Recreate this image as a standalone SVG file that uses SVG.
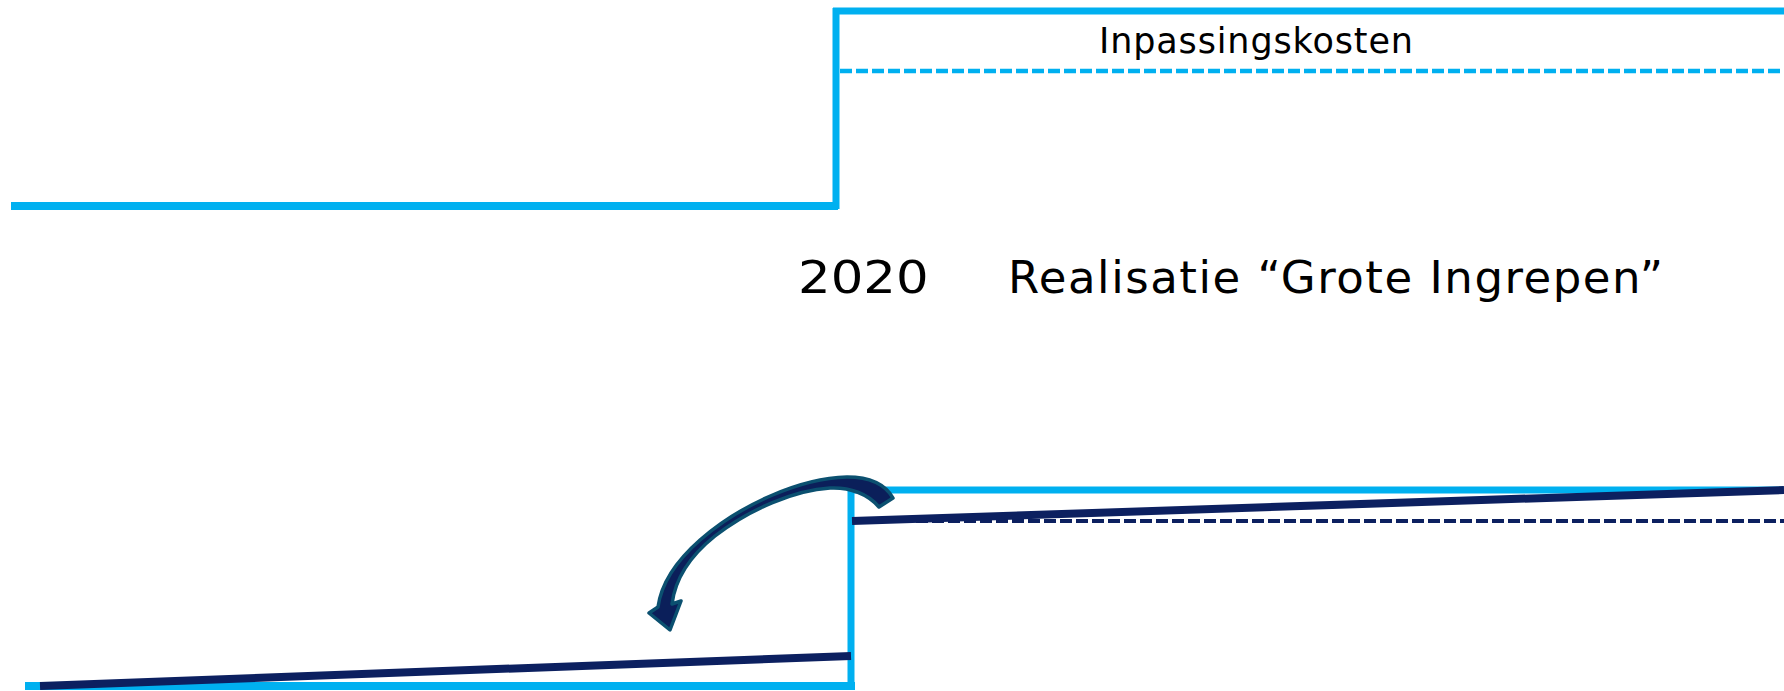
<svg xmlns="http://www.w3.org/2000/svg" width="1784" height="691" viewBox="0 0 1784 691">
  <style>
    .cyan { stroke: #00B0F0; fill: none; stroke-linecap: butt; }
    .navy { stroke: #0C2060; fill: none; stroke-linecap: butt; }
    .dash { stroke-dasharray: 12 4; }
    .lbl { font-family: "DejaVu Sans", "Liberation Sans", sans-serif; fill: #000000; }
  </style>
  <rect width="1784" height="691" fill="#FFFFFF"/>
  <g id="connectors">
    <!-- upper step -->
    <path class="cyan" d="M11,206 H838" stroke-width="8"/>
    <path class="cyan" d="M836,8 V209" stroke-width="7"/>
    <path class="cyan" d="M833,11 H1784" stroke-width="7"/>
    <path class="cyan dash" d="M840,71 H1784" stroke-width="4.5"/>
    <!-- lower step -->
    <path class="cyan" d="M25,686 H855" stroke-width="8"/>
    <path class="cyan" d="M851,487 V689" stroke-width="7"/>
    <path class="cyan" d="M848,490 H1784" stroke-width="7"/>
    <path class="navy dash" d="M852,521 H1784" stroke-width="4"/>
    <path class="navy" d="M852,521 L1784,490" stroke-width="8"/>
    <path class="navy" d="M40,686 L851,656" stroke-width="8"/>
  </g>
  <g id="curved-arrow">
    <path d="M893,498 C885,484 870,477 847,477 C800,478 740,505 700,540 C675,562 661,585 658,607 L649,613 L670,630 L681,601 L672,604 C675,580 690,556 715,536 C750,509 795,490 830,488 C850,487 868,494 879,507 Z" fill="#0B1F5A" stroke="#0B5070" stroke-width="3.5" stroke-linejoin="round"/>
  </g>
  <g id="label-inpassingskosten">
    <text class="lbl" x="1099" y="53" font-size="35" textLength="314" lengthAdjust="spacing">Inpassingskosten</text>
  </g>
  <g id="label-2020">
    <text class="lbl" x="0" y="0" font-size="45" transform="translate(798,293) scale(1.14,1)">2020</text>
  </g>
  <g id="label-realisatie">
    <text class="lbl" x="1008" y="293" font-size="45" textLength="655" lengthAdjust="spacing">Realisatie “Grote Ingrepen”</text>
  </g>
</svg>
